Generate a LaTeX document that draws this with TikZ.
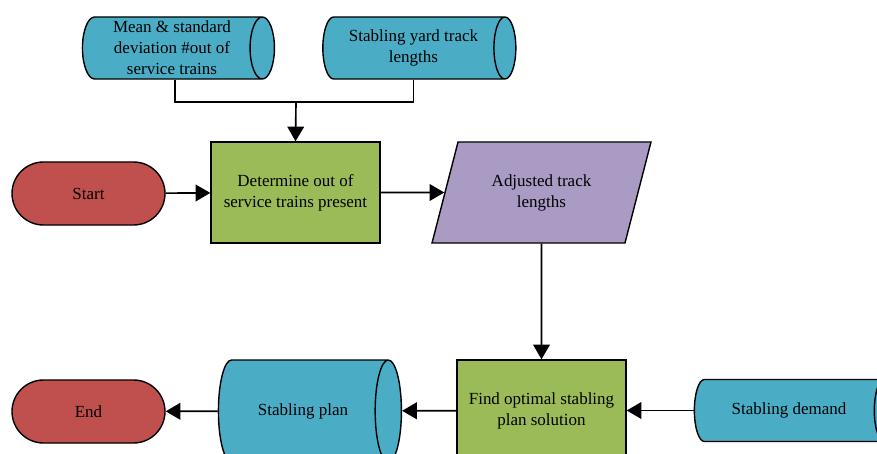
\documentclass[tikz,border=0pt]{standalone}
\usepackage{fontspec}
\setmainfont{Liberation Serif}
\usetikzlibrary{shapes.geometric,shapes.misc,arrows.meta}
\definecolor{termred}{RGB}{192,80,77}
\definecolor{procgreen}{RGB}{155,187,89}
\definecolor{datablue}{RGB}{75,172,198}
\definecolor{iopurple}{RGB}{169,155,196}

\begin{document}
\begin{tikzpicture}[x=0.03cm,y=-0.03cm,
    box/.style={draw=black, line width=1.2pt, inner sep=0pt, align=center,
                font=\fontsize{14.5}{18}\selectfont},
    term/.style={box, rounded rectangle, fill=termred,
                 minimum width=4.59cm, minimum height=1.89cm},
    proc/.style={box, rectangle, fill=procgreen,
                 minimum width=5.07cm, minimum height=3.03cm},
    store/.style={box, cylinder, shape border rotate=0, aspect=0.5, fill=datablue},
    io/.style={box, trapezium, trapezium left angle=67, trapezium right angle=113,
               trapezium stretches=true,
               fill=iopurple, minimum width=6.57cm, minimum height=3.03cm},
    link/.style={line width=1.4pt},
    flow/.style={link, -{Triangle[length=4.4mm,width=5mm]}}]
  \useasboundingbox (0,0) rectangle (877,454);
  \clip (0,0) rectangle (877,454);

  % inputs on top
  \node[store, aspect=0.45, minimum height=5.76cm, minimum width=1.86cm] (mean) at (172,48)
       {Mean \& standard\\deviation \#out of\\service trains};
  \node[store, aspect=0.6, minimum height=5.79cm, minimum width=1.86cm] (yard) at (413.5,48)
       {Stabling yard track\\lengths};

  % middle row
  \node[term] (start) at (88.5,193.5) {Start};
  \node[proc] (det) at (295.5,192.5) {Determine out of\\service trains present};
  \node[io] (adj) at (541.5,192.5) {Adjusted track\\lengths};

  % bottom row
  \node[term] (end) at (88.5,411.5) {End};
  \node[store, aspect=1.7, minimum height=5.49cm, minimum width=3.06cm] (plan) at (303,411)
       {Stabling plan};
  \node[proc] (find) at (541.5,410.5) {Find optimal stabling\\plan solution};
  \node[store, aspect=1.3, minimum height=6cm, minimum width=1.86cm] (demand) at (789,410.5)
       {Stabling demand};

  \coordinate (joint) at (296,102);
  \draw[link] ([xshift=0.09cm]mean.south) |- (joint) -| (yard.south);
  \draw[flow] (joint) -- (det.north);
  \draw[flow] (start) -- (det);
  \draw[flow] (det) -- (adj);
  \draw[flow] (adj) -- (find);
  \draw[flow] (demand) -- (find);
  \draw[flow] (find) -- (plan);
  \draw[flow] (plan) -- (end);
\end{tikzpicture}
\end{document}
